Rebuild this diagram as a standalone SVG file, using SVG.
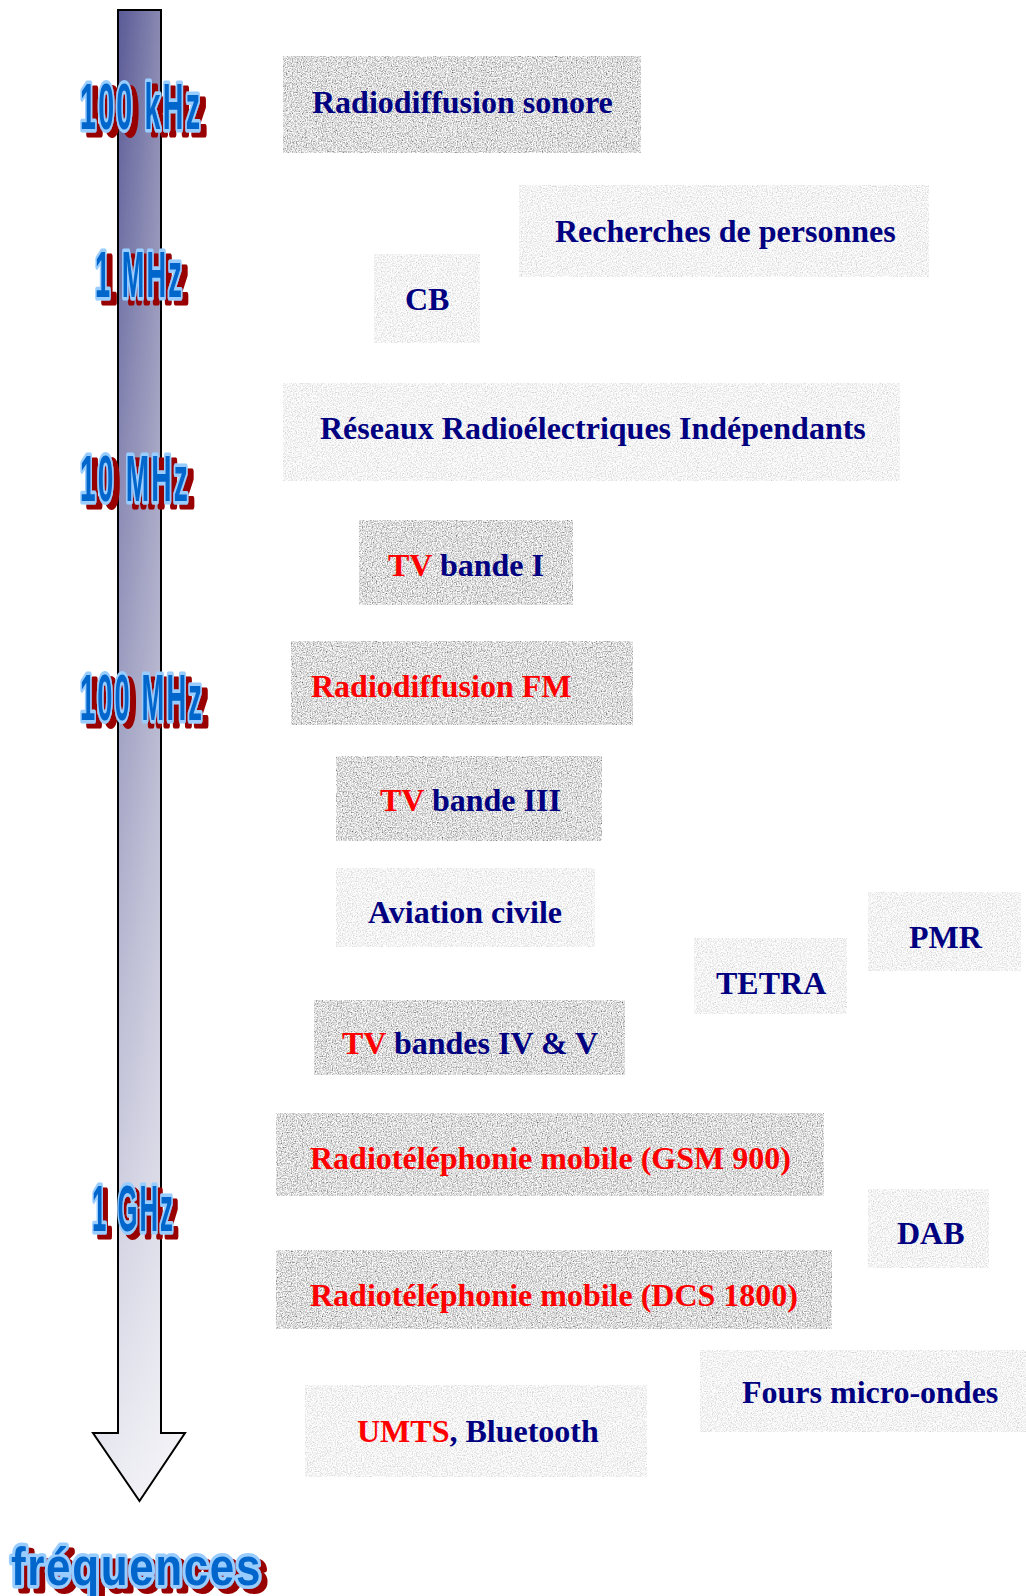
<svg xmlns="http://www.w3.org/2000/svg" width="1026" height="1596" viewBox="0 0 1026 1596">
<defs>
<linearGradient id="gH" x1="0" y1="0" x2="1" y2="0">
<stop offset="0" stop-color="#3e3e86"/>
<stop offset="1" stop-color="#a4a4c2"/>
</linearGradient>
<linearGradient id="gV" x1="0" y1="0" x2="0" y2="1">
<stop offset="0" stop-color="#ffffff" stop-opacity="0"/>
<stop offset="0.5" stop-color="#ffffff" stop-opacity="0.45"/>
<stop offset="1" stop-color="#ffffff" stop-opacity="0.9"/>
</linearGradient>
<filter id="grainD" x="0" y="0" width="1" height="1">
<feTurbulence type="fractalNoise" baseFrequency="0.8" numOctaves="2" seed="4"/>
<feColorMatrix type="matrix" values="1.6 0 0 0 -0.08  1.6 0 0 0 -0.08  1.6 0 0 0 -0.08  0 0 0 0 1"/>
</filter>
<filter id="grainL" x="0" y="0" width="1" height="1">
<feTurbulence type="fractalNoise" baseFrequency="0.8" numOctaves="2" seed="9"/>
<feColorMatrix type="matrix" values="0.8 0 0 0 0.5  0.8 0 0 0 0.5  0.8 0 0 0 0.5  0 0 0 0 1"/>
</filter>
<filter id="shadow" x="-20%" y="-20%" width="150%" height="150%">
<feOffset in="SourceAlpha" dx="13" dy="5" result="o"/>
<feFlood flood-color="#990000"/>
<feComposite in2="o" operator="in" result="s"/>
<feMerge><feMergeNode in="s"/><feMergeNode in="SourceGraphic"/></feMerge>
</filter>
<filter id="shadow2" x="-20%" y="-20%" width="150%" height="150%">
<feOffset in="SourceAlpha" dx="7" dy="5" result="o"/>
<feFlood flood-color="#990000"/>
<feComposite in2="o" operator="in" result="s"/>
<feMerge><feMergeNode in="s"/><feMergeNode in="SourceGraphic"/></feMerge>
</filter>
</defs>
<style>
.dk{fill:#b6b6b6;filter:url(#grainD)}
.lt{fill:#e6e6e6;filter:url(#grainL)}
.t{font-family:"Liberation Serif","Times New Roman",serif;font-weight:bold;font-size:32px;fill:#000080}
.r{fill:#ff0000}
.lb{font-family:"Liberation Sans",Arial,sans-serif;font-weight:bold;font-size:64px;letter-spacing:5px;fill:#0066cc;stroke:#99ccff;stroke-width:7px;stroke-linejoin:round;paint-order:stroke fill;filter:url(#shadow)}
</style>
<rect width="1026" height="1596" fill="#ffffff"/>

<g id="axis">
<path d="M118,10 H161 V1433 H185 L139.5,1501 L93,1433 H118 Z" fill="url(#gH)"/>
<path d="M118,10 H161 V1433 H185 L139.5,1501 L93,1433 H118 Z" fill="url(#gV)" stroke="#000000" stroke-width="2" stroke-linejoin="miter"/>
</g>

<g id="scale">
<text id="lbl-100kHz" class="lb" transform="translate(80,129) scale(0.447,1)">100 kHz</text>
<text id="lbl-1MHz" class="lb" transform="translate(95,297) scale(0.424,1)">1 MHz</text>
<text id="lbl-10MHz" class="lb" transform="translate(80,501) scale(0.439,1)">10 MHz</text>
<text id="lbl-100MHz" class="lb" transform="translate(80,720) scale(0.426,1)">100 MHz</text>
<text id="lbl-1GHz" class="lb" transform="translate(92,1231) scale(0.402,1)">1 GHz</text>
<text id="lbl-frequences" class="lb" transform="translate(11,1585) scale(0.815,1)" style="font-size:54px;letter-spacing:2px;filter:url(#shadow2)">fréquences</text>
</g>

<g id="n-radiodiffusion-sonore">
<rect class="dk" x="283" y="56" width="358" height="97"/>
<text class="t" x="312" y="113">Radiodiffusion sonore</text>
</g>
<g id="n-recherches">
<rect class="lt" x="519" y="185" width="410" height="92"/>
<text class="t" x="555" y="242">Recherches de personnes</text>
</g>
<g id="n-cb">
<rect class="lt" x="374" y="254" width="106" height="89"/>
<text class="t" x="405" y="310">CB</text>
</g>
<g id="n-rri">
<rect class="lt" x="283" y="383" width="617" height="98"/>
<text class="t" x="320" y="439">Réseaux Radioélectriques Indépendants</text>
</g>
<g id="n-tv-bande-1">
<rect class="dk" x="359" y="520" width="214" height="85"/>
<text class="t" x="388" y="576"><tspan class="r">TV</tspan> bande I</text>
</g>
<g id="n-radiodiffusion-fm">
<rect class="dk" x="291" y="641" width="342" height="84"/>
<text class="t r" x="311" y="697">Radiodiffusion FM</text>
</g>
<g id="n-tv-bande-3">
<rect class="dk" x="336" y="756" width="266" height="85"/>
<text class="t" x="380" y="811"><tspan class="r">TV</tspan> bande III</text>
</g>
<g id="n-aviation">
<rect class="lt" x="336" y="868" width="259" height="79"/>
<text class="t" x="368" y="923">Aviation civile</text>
</g>
<g id="n-pmr">
<rect class="lt" x="868" y="892" width="153" height="79"/>
<text class="t" x="909" y="948">PMR</text>
</g>
<g id="n-tetra">
<rect class="lt" x="694" y="938" width="153" height="76"/>
<text class="t" x="716" y="994">TETRA</text>
</g>
<g id="n-tv-bandes-4-5">
<rect class="dk" x="314" y="1000" width="311" height="75"/>
<text class="t" x="342" y="1054"><tspan class="r">TV</tspan> bandes IV &amp; V</text>
</g>
<g id="n-gsm">
<rect class="dk" x="276" y="1113" width="548" height="83"/>
<text class="t r" x="310" y="1169">Radiotéléphonie mobile (GSM 900)</text>
</g>
<g id="n-dab">
<rect class="lt" x="868" y="1189" width="121" height="79"/>
<text class="t" x="897" y="1244">DAB</text>
</g>
<g id="n-dcs">
<rect class="dk" x="276" y="1250" width="556" height="79"/>
<text class="t r" x="310" y="1306">Radiotéléphonie mobile (DCS 1800)</text>
</g>
<g id="n-fours">
<rect class="lt" x="700" y="1350" width="326" height="82"/>
<text class="t" x="742" y="1403">Fours micro-ondes</text>
</g>
<g id="n-umts">
<rect class="lt" x="305" y="1385" width="342" height="92"/>
<text class="t" x="357" y="1442"><tspan class="r">UMTS</tspan>, Bluetooth</text>
</g>
</svg>
